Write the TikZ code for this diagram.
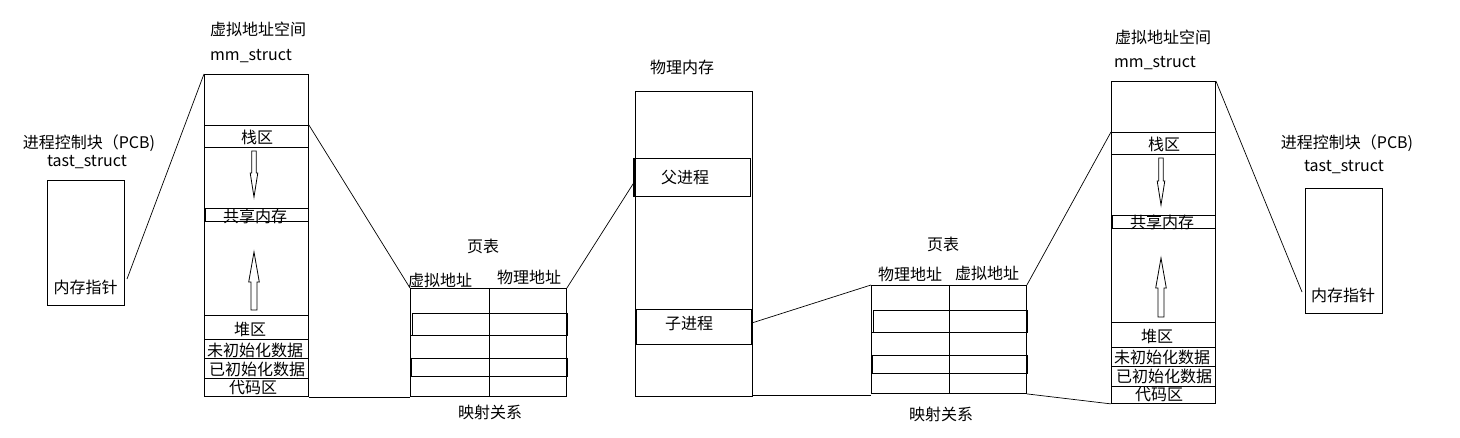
\documentclass[tikz,border=0pt]{standalone}
\usepackage{fontspec}
\setmainfont{Noto Sans CJK SC}
\usetikzlibrary{calc}
\tikzset{
  bx/.style={draw, line width=0.9pt, rectangle, inner sep=0pt, anchor=north west},
  lbl/.style={font=\fontsize{16}{18}\selectfont, inner sep=0pt},
  cn/.style={line width=0.7pt},
  gl/.style={line width=0.9pt},
  hl/.style={line width=0.95pt},
  hollow/.style={draw, line width=0.8pt, fill=white},
}
\newcommand\mybox[6]{\node[bx, minimum width=#4, minimum height=#5, #6] (#1) at (#2,#3) {};}
\newcommand\downarr[3]{\draw[hollow] ({#1-2.3},#2) -- ({#1+2.3},#2) -- ({#1+2.3},{#3-24}) -- ({#1+3.8},{#3-24}) -- (#1,#3) -- ({#1-3.8},{#3-24}) -- ({#1-2.3},{#3-24}) -- cycle;}
\newcommand\uparr[3]{\draw[hollow] ({#1-3},#3) -- ({#1+3},#3) -- ({#1+3},{#2+30}) -- ({#1+5.3},{#2+30}) -- (#1,#2) -- ({#1-5.3},{#2+30}) -- ({#1-3},{#2+30}) -- cycle;}
\begin{document}
\begin{tikzpicture}[x=1pt,y=-1pt]
\useasboundingbox[fill=white] (0,0) rectangle (1460,438);

% ---------- left PCB ----------
\node[lbl] (pcbt1) at (89,143) {进程控制块（PCB)};
\node[lbl] (tast1) at (87,162) {tast\_struct};
\mybox{pcb1}{47}{180}{77}{125}{}
\node[lbl] (ptr1) at (85.5,287) {内存指针};
\coordinate (c1) at (127,279);

% ---------- left mm_struct ----------
\node[lbl] (vt1) at (258,29) {虚拟地址空间};
\node[lbl] (mmt1) at (251,56) {mm\_struct};
\mybox{mm1}{204}{74}{104}{322}{}
\mybox{mm1s}{204}{125}{104}{22}{}
\mybox{mm1sh}{205}{208}{103}{13}{}
\mybox{mm1h}{204}{315}{104}{24}{}
\mybox{mm1u}{204}{339}{104}{19}{}
\mybox{mm1c}{204}{358}{104}{20}{}
\node[lbl] (s1) at (257,137) {栈区};
\node[lbl] (sh1) at (255,216.5) {共享内存};
\node[lbl] (h1) at (250,329) {堆区};
\node[lbl] (u1) at (255,350) {未初始化数据};
\node[lbl] (i1) at (257,369) {已初始化数据};
\node[lbl] (d1) at (253,388) {代码区};
\downarr{254}{151}{197}
\uparr{254}{252}{310}

% ---------- page table 1 ----------
\node[lbl] (ptt1) at (483,246) {页表};
\node[lbl] (va1) at (440,280) {虚拟地址};
\node[lbl] (pa1) at (529,277) {物理地址};
\mybox{pt1}{410}{288}{156}{108}{}
\draw[gl] (489,288) -- (489,396);
\draw[gl] (410,335) -- (566,335);
\draw[gl] (410,376) -- (566,376);
\draw[hl] (412,313) rectangle (567,335);
\draw[hl] (410.5,358) rectangle (567,376);
\draw[line width=1.8pt] (567,313) -- (567,335) (567,358) -- (567,376) (411,358) -- (411,376);
\node[lbl] (map1) at (490,412) {映射关系};

% ---------- physical memory ----------
\node[lbl] (pmt) at (682,67) {物理内存};
\mybox{pm}{635}{91}{117}{305}{}
\mybox{fa}{634}{158}{116}{38}{}
\mybox{ch}{636}{309}{115}{35}{}
\draw[line width=1.8pt] (fa.north west) -- (fa.south west) (ch.north east) -- (ch.south east) (ch.north west) -- (ch.south west);
\node[lbl] (fat) at (685,178) {父进程};
\node[lbl] (cht) at (689,324) {子进程};

% ---------- page table 2 ----------
\node[lbl] (ptt2) at (943,244) {页表};
\node[lbl] (pa2) at (910,274) {物理地址};
\node[lbl] (va2) at (987,273) {虚拟地址};
\mybox{pt2}{871}{285}{155}{108}{}
\draw[gl] (949,285) -- (949,393);
\draw[gl] (871,332) -- (1026,332);
\draw[gl] (871,373) -- (1026,373);
\draw[hl] (873,310) rectangle (1027,332);
\draw[hl] (871.5,355) rectangle (1027,373);
\draw[line width=1.8pt] (1027,310) -- (1027,332) (1027,355) -- (1027,373) (872,355) -- (872,373);
\node[lbl] (map2) at (941,414) {映射关系};

% ---------- right mm_struct ----------
\node[lbl] (vt2) at (1163,37) {虚拟地址空间};
\node[lbl] (mmt2) at (1155,63) {mm\_struct};
\mybox{mm2}{1111}{81}{104}{322}{}
\mybox{mm2s}{1111}{132}{104}{22}{}
\mybox{mm2sh}{1112}{215}{103}{13}{}
\mybox{mm2h}{1111}{322}{104}{25}{}
\mybox{mm2u}{1111}{347}{104}{19}{}
\mybox{mm2c}{1111}{366}{104}{20}{}
\node[lbl] (s2) at (1164,144) {栈区};
\node[lbl] (sh2) at (1162,222.5) {共享内存};
\node[lbl] (h2) at (1157,336) {堆区};
\node[lbl] (u2) at (1162,357) {未初始化数据};
\node[lbl] (i2) at (1164,376) {已初始化数据};
\node[lbl] (d2) at (1159,395) {代码区};
\downarr{1161}{158}{205}
\uparr{1161}{258}{317}

% ---------- right PCB ----------
\node[lbl] (pcbt2) at (1347,143) {进程控制块（PCB)};
\node[lbl] (tast2) at (1344,167) {tast\_struct};
\mybox{pcb2}{1305}{188}{77}{125}{}
\node[lbl] (ptr2) at (1343,295) {内存指针};
\coordinate (c2) at (1302,292);

% ---------- connectors ----------
\draw[cn] (c1) -- (mm1.north west);
\draw[cn] (mm1s.north east) -- (pt1.north west);
\draw[cn] (mm1.south east) -- (pt1.south west);
\draw[cn] (pt1.north east) -- ([yshift=-5pt]fa.west);
\draw[cn] ([yshift=4pt]ch.east) -- (pt2.north west);
\draw[cn] ([yshift=2pt]pm.south east) -- ([yshift=-1pt]pt2.south west);
\draw[cn] (pt2.north east) -- (mm2s.north west);
\draw[cn] (pt2.south east) -- (mm2.south west);
\draw[cn] (mm2.north east) -- (c2);
\end{tikzpicture}
\end{document}
